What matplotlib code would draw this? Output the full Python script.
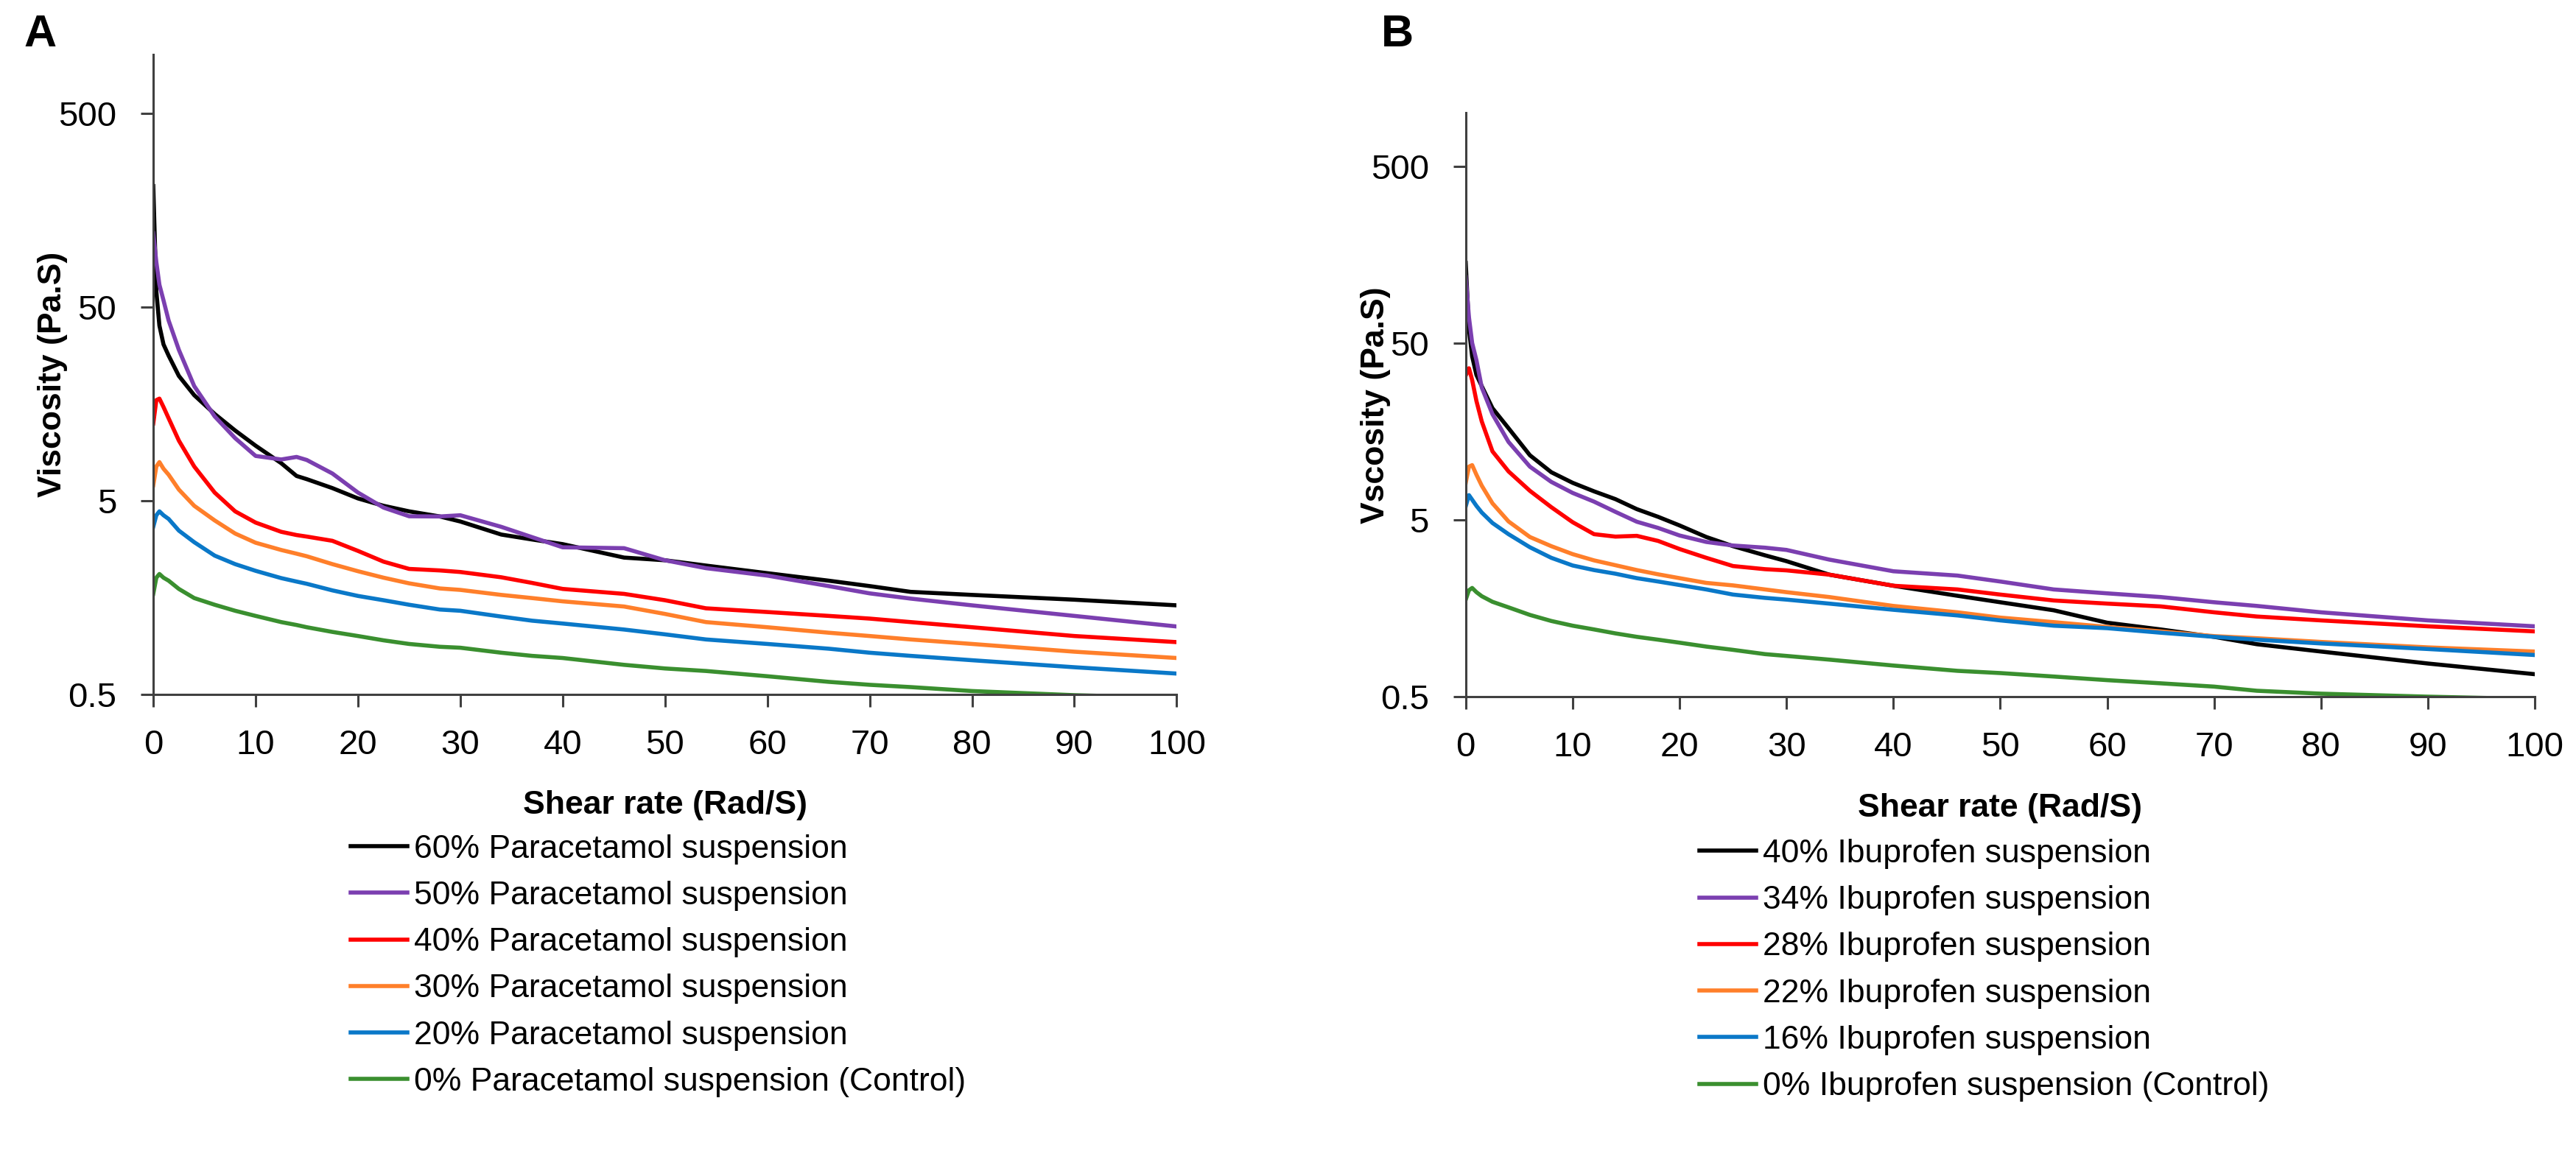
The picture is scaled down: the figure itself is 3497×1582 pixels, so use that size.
import numpy as np
import matplotlib
matplotlib.use("Agg")
import matplotlib.pyplot as plt
from matplotlib.ticker import FixedLocator, FixedFormatter, NullLocator

plt.rcParams['font.family'] = ['Liberation Sans', 'DejaVu Sans']

# ---- Panel A: paracetamol suspensions ----
shear_a = [0, 0.3, 0.6, 1, 1.5, 2.5, 4, 6, 8, 10, 12.5, 14, 15, 17.5, 20, 22.5, 25,
           28, 30, 34, 37, 40, 46, 50, 54, 60, 66, 70, 74, 80, 90, 100]
para_60 = [210, 60, 40, 32, 28, 22, 17.5, 14, 11.5, 9.6, 7.8, 6.7, 6.45, 5.8, 5.13, 4.7, 4.4,
           4.14, 3.9, 3.34, 3.15, 2.98, 2.54, 2.46, 2.31, 2.11, 1.93, 1.81, 1.69, 1.63, 1.54, 1.44]
para_50 = [120, 85, 65, 54, 42.5, 30, 19.5, 13.6, 10.5, 8.5, 8.15, 8.4, 8.1, 6.9, 5.5, 4.6, 4.15,
           4.14, 4.2, 3.66, 3.24, 2.87, 2.84, 2.46, 2.24, 2.05, 1.81, 1.66, 1.56, 1.44, 1.27, 1.12]
para_40 = [12.5, 16.5, 16.8, 15.2, 13.3, 10.2, 7.5, 5.5, 4.4, 3.85, 3.45, 3.32, 3.26, 3.1, 2.75, 2.42, 2.22,
           2.18, 2.14, 2.01, 1.88, 1.75, 1.65, 1.53, 1.39, 1.33, 1.27, 1.23, 1.18, 1.11, 1.00, 0.93]
para_30 = [6.0, 7.5, 7.9, 7.3, 6.8, 5.7, 4.7, 3.95, 3.38, 3.03, 2.78, 2.66, 2.58, 2.35, 2.16, 2.0, 1.87,
           1.76, 1.73, 1.63, 1.57, 1.51, 1.42, 1.30, 1.18, 1.11, 1.04, 1.00, 0.96, 0.91, 0.83, 0.77]
para_20 = [3.66, 4.2, 4.4, 4.2, 4.02, 3.5, 3.05, 2.6, 2.35, 2.17, 1.99, 1.91, 1.86, 1.72, 1.61, 1.53, 1.45,
           1.37, 1.35, 1.26, 1.20, 1.16, 1.08, 1.02, 0.96, 0.91, 0.86, 0.82, 0.79, 0.75, 0.69, 0.64]
para_0 = [1.65, 2.0, 2.09, 2.0, 1.93, 1.75, 1.57, 1.45, 1.35, 1.27, 1.18, 1.14, 1.11, 1.05, 1.0, 0.95, 0.91,
          0.88, 0.87, 0.82, 0.79, 0.77, 0.71, 0.68, 0.66, 0.62, 0.58, 0.56, 0.545, 0.52, 0.495, 0.48]
labels_a = ['60% Paracetamol suspension', '50% Paracetamol suspension',
            '40% Paracetamol suspension', '30% Paracetamol suspension',
            '20% Paracetamol suspension', '0% Paracetamol suspension (Control)']

# ---- Panel B: ibuprofen suspensions ----
shear_b = [0, 0.3, 0.6, 1, 1.5, 2.5, 4, 6, 8, 10, 12, 14, 16, 18, 20, 22.5, 25,
           28, 30, 34, 40, 46, 50, 55, 60, 65, 70, 74, 80, 90, 100]
ibu_40 = [142, 60, 42, 33, 28.5, 21.4, 16.5, 11.6, 9.3, 8.1, 7.25, 6.55, 5.75, 5.2, 4.65, 4.0, 3.55,
          3.15, 2.92, 2.45, 2.12, 1.86, 1.71, 1.54, 1.31, 1.20, 1.09, 0.99, 0.90, 0.77, 0.67]
ibu_34 = [118, 70, 50, 40, 28, 19.8, 13.8, 10.0, 8.2, 7.1, 6.34, 5.55, 4.88, 4.5, 4.08, 3.75, 3.58,
          3.48, 3.38, 2.98, 2.56, 2.42, 2.24, 2.02, 1.92, 1.83, 1.71, 1.63, 1.50, 1.35, 1.25]
ibu_28 = [32.8, 36, 30.9, 23.5, 18, 12.2, 9.4, 7.3, 5.9, 4.85, 4.15, 4.02, 4.06, 3.8, 3.42, 3.05, 2.74,
          2.63, 2.59, 2.45, 2.12, 2.02, 1.89, 1.75, 1.68, 1.62, 1.50, 1.42, 1.35, 1.25, 1.17]
ibu_22 = [8.1, 10.0, 10.2, 9.0, 7.8, 6.2, 4.9, 4.0, 3.55, 3.2, 2.95, 2.77, 2.6, 2.46, 2.34, 2.2, 2.13,
          2.02, 1.95, 1.83, 1.63, 1.50, 1.40, 1.32, 1.24, 1.17, 1.10, 1.07, 1.02, 0.95, 0.90]
ibu_16 = [5.97, 6.9, 6.5, 6.0, 5.5, 4.8, 4.15, 3.5, 3.05, 2.76, 2.6, 2.48, 2.34, 2.24, 2.14, 2.02, 1.89,
          1.81, 1.77, 1.68, 1.55, 1.44, 1.35, 1.26, 1.22, 1.15, 1.09, 1.05, 1.00, 0.93, 0.86]
ibu_0 = [1.77, 2.0, 2.06, 1.95, 1.85, 1.72, 1.60, 1.45, 1.34, 1.26, 1.2, 1.14, 1.09, 1.05, 1.01, 0.96, 0.92,
         0.87, 0.85, 0.81, 0.75, 0.70, 0.68, 0.65, 0.62, 0.595, 0.57, 0.54, 0.52, 0.50, 0.485]
labels_b = ['40% Ibuprofen suspension', '34% Ibuprofen suspension',
            '28% Ibuprofen suspension', '22% Ibuprofen suspension',
            '16% Ibuprofen suspension', '0% Ibuprofen suspension (Control)']

colors = ['#000000', '#7b3fb0', '#ff0000', '#ff7f2a', '#0a78c8', '#3a8f2f']
y_ticks = [0.5, 5, 50, 500]
x_ticks = list(range(0, 101, 10))

AXIS_COLOR = '#404040'
TICK_SIZE = 34
LABEL_SIZE = 32


def style_axes(ax, ylabel, ylabel_x, xlabel_y):
    ax.set_yscale('log')
    ax.set_ylim(0.5, 1000)
    ax.set_xlim(0, 100)
    ax.yaxis.set_major_locator(FixedLocator(y_ticks))
    ax.yaxis.set_major_formatter(FixedFormatter([str(v) for v in y_ticks]))
    ax.yaxis.set_minor_locator(NullLocator())
    ax.set_xticks(x_ticks)
    for side in ['top', 'right']:
        ax.spines[side].set_visible(False)
    for side in ['left', 'bottom']:
        ax.spines[side].set_color(AXIS_COLOR)
        ax.spines[side].set_linewidth(2.2)
    ax.tick_params(axis='both', direction='out', length=12, width=2.2,
                   color=AXIS_COLOR, labelsize=TICK_SIZE)
    ax.tick_params(axis='x', pad=22)
    ax.tick_params(axis='y', pad=24)
    ax.set_ylabel(ylabel, fontsize=LABEL_SIZE, fontweight='bold')
    ax.yaxis.set_label_coords(ylabel_x, 0.5)
    ax.set_xlabel('Shear rate (Rad/S)', fontsize=LABEL_SIZE, fontweight='bold')
    ax.xaxis.set_label_coords(0.5, xlabel_y)
    ax.xaxis.label.set_va('center')
    ax.yaxis.label.set_va('center')


def main():
    fig = plt.figure(figsize=(34.97, 15.82), dpi=100)

    ax_a = fig.add_axes([0.0595, 0.404, 0.3973, 0.549])
    series_a = [para_60, para_50, para_40, para_30, para_20, para_0]
    for vals, col, lab in zip(series_a, colors, labels_a):
        ax_a.plot(shear_a, vals, color=col, lw=4, label=lab)
    style_axes(ax_a, 'Viscosity (Pa.S)', -0.098, -0.174)

    ax_b = fig.add_axes([0.569, 0.402, 0.415, 0.501])
    series_b = [ibu_40, ibu_34, ibu_28, ibu_22, ibu_16, ibu_0]
    for vals, col, lab in zip(series_b, colors, labels_b):
        ax_b.plot(shear_b, vals, color=col, lw=4, label=lab)
    style_axes(ax_b, 'Vscosity (Pa.S)', -0.084, -0.191)

    leg_kw = dict(loc='upper left', bbox_transform=fig.transFigure, frameon=False,
                  borderpad=0, borderaxespad=0, handlelength=1.73, handletextpad=0.2,
                  labelspacing=0.5, fontsize=32)
    ax_a.legend(bbox_to_anchor=(0.1361, 0.284), **leg_kw)
    ax_b.legend(bbox_to_anchor=(0.6597, 0.280), **leg_kw)

    fig.text(0.0094, 0.988, 'A', fontsize=44, fontweight='bold', va='top', ha='left')
    fig.text(0.536, 0.988, 'B', fontsize=44, fontweight='bold', va='top', ha='left')

    fig.savefig('out.png', dpi=100)


if __name__ == "__main__":
    main()
